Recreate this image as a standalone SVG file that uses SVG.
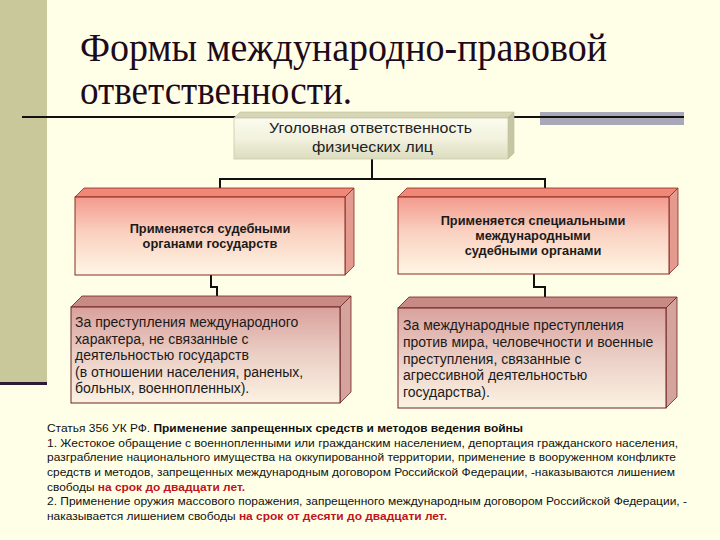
<svg xmlns="http://www.w3.org/2000/svg" width="720" height="540" viewBox="0 0 720 540">
<defs>
<linearGradient id="gTop" x1="0" y1="0" x2="0" y2="1">
<stop offset="0" stop-color="#FBFBF0"/><stop offset="0.5" stop-color="#F2F2DE"/><stop offset="1" stop-color="#DCDCC0"/>
</linearGradient>
<linearGradient id="gA" x1="0" y1="0" x2="0" y2="1">
<stop offset="0" stop-color="#F39A8C"/><stop offset="0.45" stop-color="#FAD0C0"/><stop offset="1" stop-color="#FFF6E4"/>
</linearGradient>
<linearGradient id="gB" x1="0" y1="0" x2="0" y2="1">
<stop offset="0" stop-color="#D9A19C"/><stop offset="0.5" stop-color="#EBCFC6"/><stop offset="1" stop-color="#FBF2E2"/>
</linearGradient>
<style>
.t1{font-family:"Liberation Sans",Arial,sans-serif;font-family:"Liberation Serif","Times New Roman",serif;font-size:40px;fill:#1E0A1A}
.tb{font-family:"Liberation Sans",Arial,sans-serif;font-size:14.5px;fill:#222}
.bold{font-family:"Liberation Sans",Arial,sans-serif;font-size:12.8px;font-weight:bold;fill:#1a1a1a;text-anchor:middle}
.body{font-family:"Liberation Sans",Arial,sans-serif;font-size:14px;fill:#1a1a1a}
.small{font-family:"Liberation Sans",Arial,sans-serif;font-size:11px;fill:#111}
.b{font-weight:bold}
.red{font-weight:bold;fill:#C0141C}
.fa{fill:url(#gA);stroke:#8A2A22;stroke-width:1}
.fb{fill:url(#gB);stroke:#6E2222;stroke-width:1}
.topA{fill:#F08878;stroke:#8A2A22;stroke-width:0.8}
.sideA{fill:#E49A8E;stroke:#8A2A22;stroke-width:0.8}
.topB{fill:#C88A84;stroke:#6E2222;stroke-width:0.8}
.sideB{fill:#D4A49C;stroke:#6E2222;stroke-width:0.8}
.conn{fill:none;stroke:#111;stroke-width:2}
</style>
</defs>
<rect x="0" y="0" width="720" height="540" fill="#FFFFE8"/>
<rect x="0" y="0" width="47" height="383" fill="#C8C89A"/>
<rect x="0" y="382" width="47" height="3" fill="#2E1A34"/>
<g id="title">
<text class="t1" x="80" y="61" textLength="527" lengthAdjust="spacingAndGlyphs">Формы международно-правовой</text>
<text class="t1" x="80" y="104" textLength="272" lengthAdjust="spacingAndGlyphs">ответственности.</text>
</g>
<g id="rule">
<rect x="540" y="112" width="144" height="13" fill="#A9A8B8"/>
<line x1="22" y1="117" x2="684" y2="117" stroke="#111" stroke-width="2"/>
</g>
<g id="connectors">
<path class="conn" d="M372 159 V179 M220 189 V179 H545 V189"/>
<path class="conn" d="M211 275 V287 H217 V296"/>
<path class="conn" d="M534 274 V287 H545 V297"/>
</g>
<g id="root">
<polygon points="234,118 240,112 514,112 508,118" fill="#D6D6B6" stroke="#C0C0A0" stroke-width="0.6"/>
<polygon points="508,118 514,112 514,153 508,159" fill="#C6C6A2" stroke="#B8B898" stroke-width="0.6"/>
<rect x="234" y="118" width="274" height="41" fill="url(#gTop)" stroke="#C8C8AA" stroke-width="0.8"/>
<text class="tb" x="269" y="133" textLength="203" lengthAdjust="spacingAndGlyphs">Уголовная ответственность</text>
<text class="tb" x="312" y="152" textLength="121" lengthAdjust="spacingAndGlyphs">физических лиц</text>
</g>
<g id="national-courts">
<polygon class="topA" points="75,197 84,188 354,188 345,197"/>
<polygon class="sideA" points="345,197 354,188 354,266 345,275"/>
<rect class="fa" x="75" y="197" width="270" height="78"/>
<text class="bold" x="210" y="233">Применяется судебными</text>
<text class="bold" x="210" y="248">органами государств</text>
</g>
<g id="international-courts">
<polygon class="topA" points="398,197 407,188 678,188 669,197"/>
<polygon class="sideA" points="669,197 678,188 678,265 669,274"/>
<rect class="fa" x="398" y="197" width="271" height="77"/>
<text class="bold" x="533" y="225">Применяется специальными</text>
<text class="bold" x="533" y="240">международными</text>
<text class="bold" x="533" y="255">судебными органами</text>
</g>
<g id="crimes-international-character">
<polygon class="topB" points="71,307 82,296 351,296 340,307"/>
<polygon class="sideB" points="340,307 351,296 351,392 340,403"/>
<rect class="fb" x="71" y="307" width="269" height="96"/>
<text class="body" x="75" y="327">За преступления международного</text>
<text class="body" x="75" y="344">характера,  не связанные с</text>
<text class="body" x="75" y="360">деятельностью государств</text>
<text class="body" x="75" y="377">(в отношении населения, раненых,</text>
<text class="body" x="75" y="393">больных, военнопленных).</text>
</g>
<g id="international-crimes">
<polygon class="topB" points="398,308 409,297 677,297 666,308"/>
<polygon class="sideB" points="666,308 677,297 677,397 666,408"/>
<rect class="fb" x="398" y="308" width="268" height="100"/>
<text class="body" x="403" y="330">За международные преступления</text>
<text class="body" x="403" y="347">против мира,  человечности и военные</text>
<text class="body" x="403" y="364">преступления,  связанные с</text>
<text class="body" x="403" y="380">агрессивной деятельностью</text>
<text class="body" x="403" y="397">государства).</text>
</g>
<g id="article">
<text class="small" x="47" y="432" textLength="476" lengthAdjust="spacingAndGlyphs">Статья 356 УК РФ. <tspan class="b">Применение запрещенных средств и методов ведения войны</tspan></text>
<text class="small" x="47" y="447" textLength="631" lengthAdjust="spacingAndGlyphs">1. Жестокое обращение с военнопленными или гражданским населением, депортация гражданского населения,</text>
<text class="small" x="47" y="461" textLength="629" lengthAdjust="spacingAndGlyphs">разграбление национального имущества на оккупированной территории, применение в вооруженном конфликте</text>
<text class="small" x="47" y="476" textLength="628" lengthAdjust="spacingAndGlyphs">средств и методов, запрещенных международным договором Российской Федерации, -наказываются лишением</text>
<text class="small" x="47" y="491" textLength="198" lengthAdjust="spacingAndGlyphs">свободы <tspan class="red">на срок до двадцати лет.</tspan></text>
<text class="small" x="47" y="505" textLength="640" lengthAdjust="spacingAndGlyphs">2. Применение оружия массового поражения, запрещенного международным договором Российской Федерации, -</text>
<text class="small" x="47" y="520" textLength="400" lengthAdjust="spacingAndGlyphs">наказывается лишением свободы <tspan class="red">на срок от десяти до двадцати лет.</tspan></text>
</g>
</svg>
